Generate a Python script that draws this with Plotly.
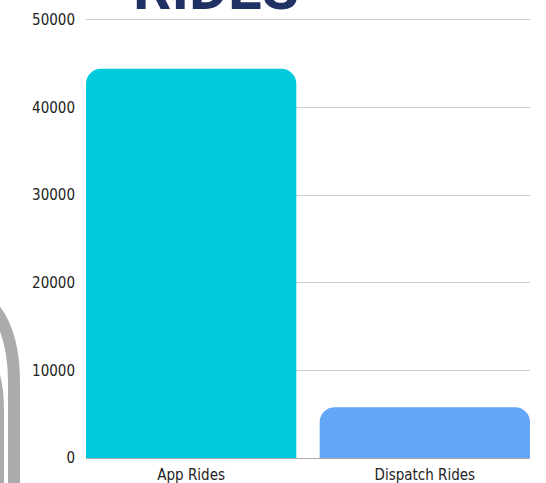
import plotly.graph_objects as go

categories = ["App Rides", "Dispatch Rides"]
rides = [44400, 5800]
bar_colors = ["#00CADC", "#64A6F8"]
y_ticks = [0, 10000, 20000, 30000, 40000, 50000]
y_tick_labels = ["0", "10000", "20000", "30000", "40000", "50000"]
title_text = "RIDES"

W, H = 546, 483
L, R, T, B = 86, 16, 18, 25
PW, PH = W - L - R, H - T - B


def px(x):
    return (x - L) / PW


def py(y):
    return (H - B - y) / PH


def arc_path(pts):
    (x0, y0), (c1x, c1y), (c2x, c2y), (ex, ey), (lx, ly) = pts
    return (f"M {px(x0)},{py(y0)} C {px(c1x)},{py(c1y)} {px(c2x)},{py(c2y)} "
            f"{px(ex)},{py(ey)} L {px(lx)},{py(ly)}")


fig = go.Figure(go.Bar(
    x=categories,
    y=rides,
    width=0.9,
    marker=dict(color=bar_colors, line=dict(width=0)),
    hoverinfo="skip",
))

shapes = []
for pts in [
    [(-14, 300), (6, 318), (14, 345), (14, 382), (14, 520)],
    [(-30, 335), (-10, 352), (-2, 378), (-2, 410), (-2, 520)],
]:
    shapes.append(dict(type="path", xref="paper", yref="paper",
                       path=arc_path(pts), line=dict(color="#ABABAB", width=12),
                       fillcolor="rgba(0,0,0,0)", layer="below"))

fig.update_layout(
    width=W, height=H,
    margin=dict(l=L, r=R, t=T, b=B, autoexpand=False),
    paper_bgcolor="white", plot_bgcolor="white",
    barcornerradius=15,
    showlegend=False,
    shapes=shapes,
    font=dict(family="Liberation Sans Narrow, DejaVu Sans Condensed, sans-serif",
              size=15, color="#222222"),
    xaxis=dict(range=[-0.45, 1.45], showgrid=False, showline=False,
               ticks="", tickfont=dict(size=15), automargin=False,
               ticklabelstandoff=6),
    yaxis=dict(range=[0, 50200], tickvals=y_ticks, ticktext=y_tick_labels,
               showgrid=True, automargin=False,
               gridcolor="#CCCCCC", gridwidth=1, zeroline=True,
               zerolinecolor="#AAAAAA", zerolinewidth=1, ticks="",
               ticklabelstandoff=10, tickfont=dict(size=15)),
    annotations=[dict(text=f"<b>{title_text}</b>", xref="paper", yref="paper",
                      x=px(216), y=py(-12), xanchor="center", yanchor="middle",
                      showarrow=False,
                      font=dict(family="Roboto, sans-serif", size=60, color="#1F3263"))],
)

fig.write_html("out.html", config={"displayModeBar": False},
               post_script="document.body.style.margin='0';")
